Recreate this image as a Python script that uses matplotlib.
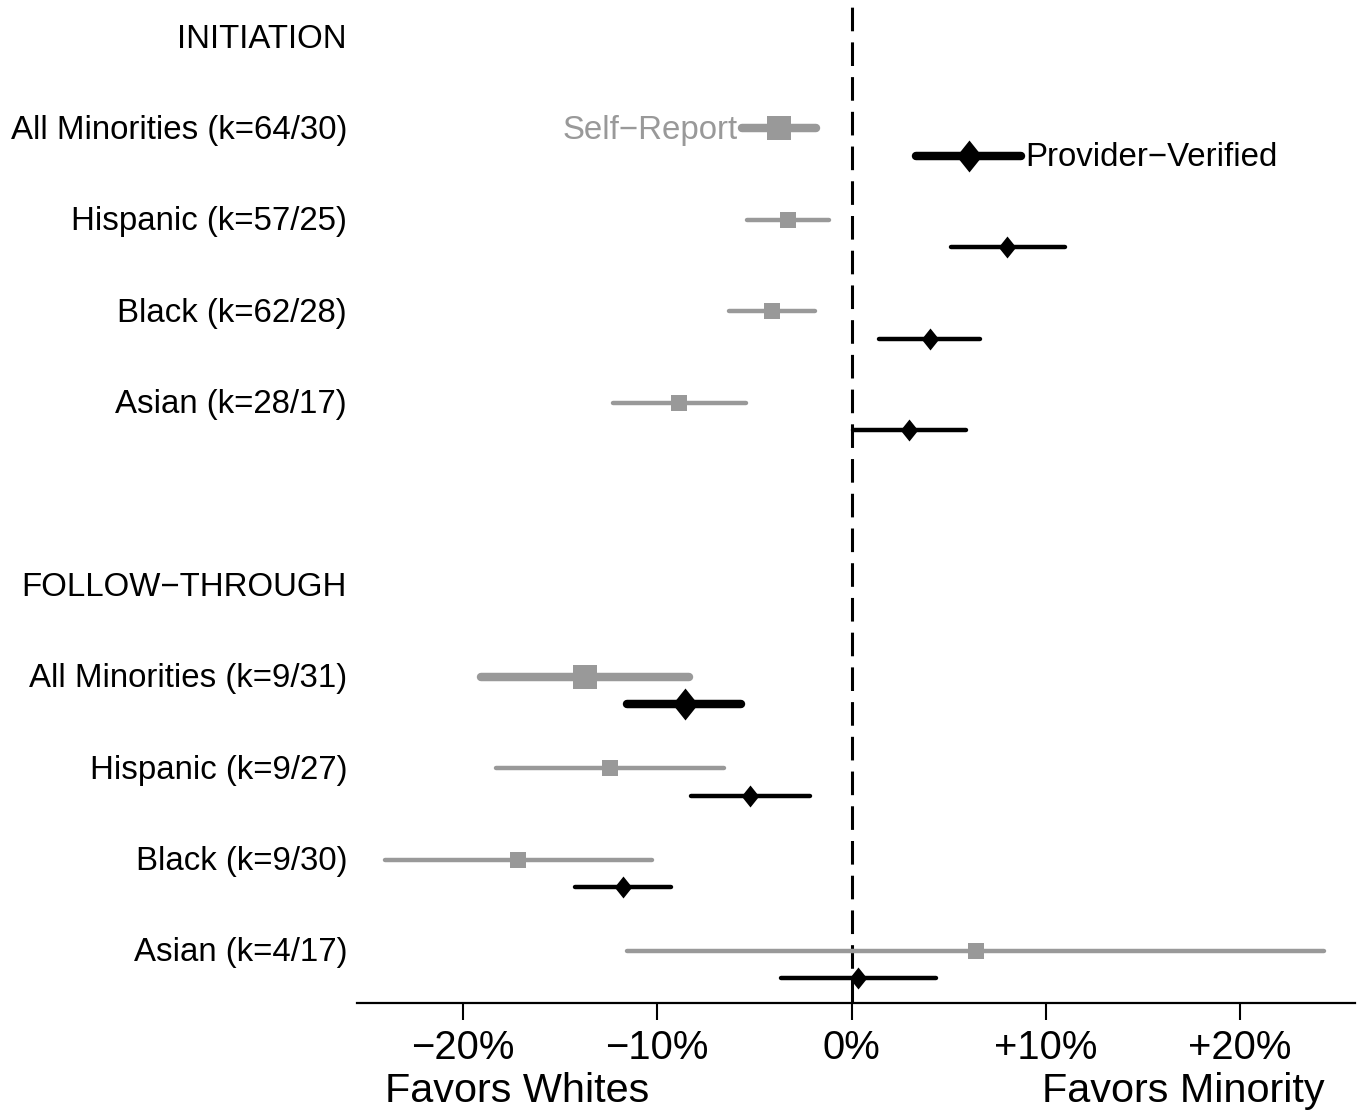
import numpy as np
import matplotlib
matplotlib.use('Agg')
import matplotlib.pyplot as plt
import matplotlib.transforms as mtransforms
from matplotlib.path import Path

plt.rcParams['font.family'] = ['Liberation Sans', 'DejaVu Sans']
plt.rcParams['lines.scale_dashes'] = False

# data (percent difference, minority vs white)
init_labels = ["All Minorities (k=64/30)", "Hispanic (k=57/25)",
               "Black (k=62/28)", "Asian (k=28/17)"]
follow_labels = ["All Minorities (k=9/31)", "Hispanic (k=9/27)",
                 "Black (k=9/30)", "Asian (k=4/17)"]

# self-report: initiation rows then follow-through rows
sr_est = [-3.72, -3.25, -4.10, -8.87, -13.70, -12.43, -17.15, 6.39]
sr_lo = [-5.64, -5.38, -6.29, -12.25, -19.05, -18.30, -24.00, -11.57]
sr_hi = [-1.83, -1.17, -1.89, -5.42, -8.39, -6.56, -10.26, 24.33]

# provider-verified
pv_est = [6.03, 8.02, 4.02, 2.94, -8.59, -5.25, -11.77, 0.33]
pv_lo = [3.32, 5.14, 1.42, 0.05, -11.54, -8.26, -14.23, -3.64]
pv_hi = [8.72, 10.97, 6.63, 5.87, -5.67, -2.13, -9.28, 4.33]

xticks = [-20, -10, 0, 10, 20]
xtick_labels = ["\u221220%", "\u221210%", "0%", "+10%", "+20%"]

GRAY = '#999999'

fig = plt.figure(figsize=(13.63, 11.15), dpi=100)
ax = fig.add_axes([357/1363, 112/1115, 998/1363, 1003/1115])

# row layout: header, 4 groups, blank, header, 4 groups
rows = [1, 2, 3, 4, 7, 8, 9, 10]
offset = 0.3

diamond = Path([(0, 1), (0.8, 0), (0, -1), (-0.8, 0), (0, 1)],
               [Path.MOVETO, Path.LINETO, Path.LINETO, Path.LINETO, Path.CLOSEPOLY])

ax.axvline(0, color='black', lw=2.2, dashes=(17, 8), zorder=1)

for i, r in enumerate(rows):
    thick = (i % 4 == 0)
    lw = 6.1 if thick else 3.2
    ax.plot([sr_lo[i], sr_hi[i]], [r, r], color=GRAY, lw=lw,
            solid_capstyle='round', zorder=2)
    ax.plot(sr_est[i], r, marker='s', ms=17.3 if thick else 11.9,
            color=GRAY, mew=0, zorder=3)
    rb = r + offset
    ax.plot([pv_lo[i], pv_hi[i]], [rb, rb], color='black', lw=lw,
            solid_capstyle='round', zorder=2)
    ax.plot(pv_est[i], rb, marker=diamond, ms=23 if thick else 15.8,
            color='black', mew=0, zorder=3)

# in-plot series labels
ax.annotate("Self\u2212Report", (sr_lo[0], rows[0]), xytext=(-3, -1.5),
            textcoords='offset points', ha='right', va='center',
            fontsize=23.8, color=GRAY)
ax.annotate("Provider\u2212Verified", (pv_hi[0], rows[0] + offset), xytext=(3, -1.5),
            textcoords='offset points', ha='left', va='center',
            fontsize=23.8, color='black')

# row labels
trans = mtransforms.blended_transform_factory(fig.transFigure, ax.transData)
trans = trans + mtransforms.ScaledTranslation(0, -1.5/72, fig.dpi_scale_trans)
lx = 347/1363
ax.text(lx, 0, "INITIATION", transform=trans, ha='right', va='center', fontsize=23.8)
ax.text(lx, 6, "FOLLOW\u2212THROUGH", transform=trans, ha='right', va='center', fontsize=23.8)
for lab, r in zip(init_labels + follow_labels, rows):
    ax.text(lx, r, lab, transform=trans, ha='right', va='center', fontsize=23.8)

ax.set_xlim(-25.45, 25.91)
ax.set_ylim(10.57, -0.405)
ax.set_xticks(xticks)
ax.set_xticklabels(xtick_labels)
ax.set_yticks([])
for s in ['top', 'left', 'right']:
    ax.spines[s].set_visible(False)
ax.spines['bottom'].set_linewidth(1.6)
ax.tick_params(axis='x', length=12, width=1.5, labelsize=28.8, pad=7)

fig.text(385/1363, (1115-1091)/1115, "Favors Whites", ha='left', va='center', fontsize=29.8)
fig.text(1325/1363, (1115-1091)/1115, "Favors Minority", ha='right', va='center', fontsize=29.8)

fig.savefig('out.png', dpi=100)
